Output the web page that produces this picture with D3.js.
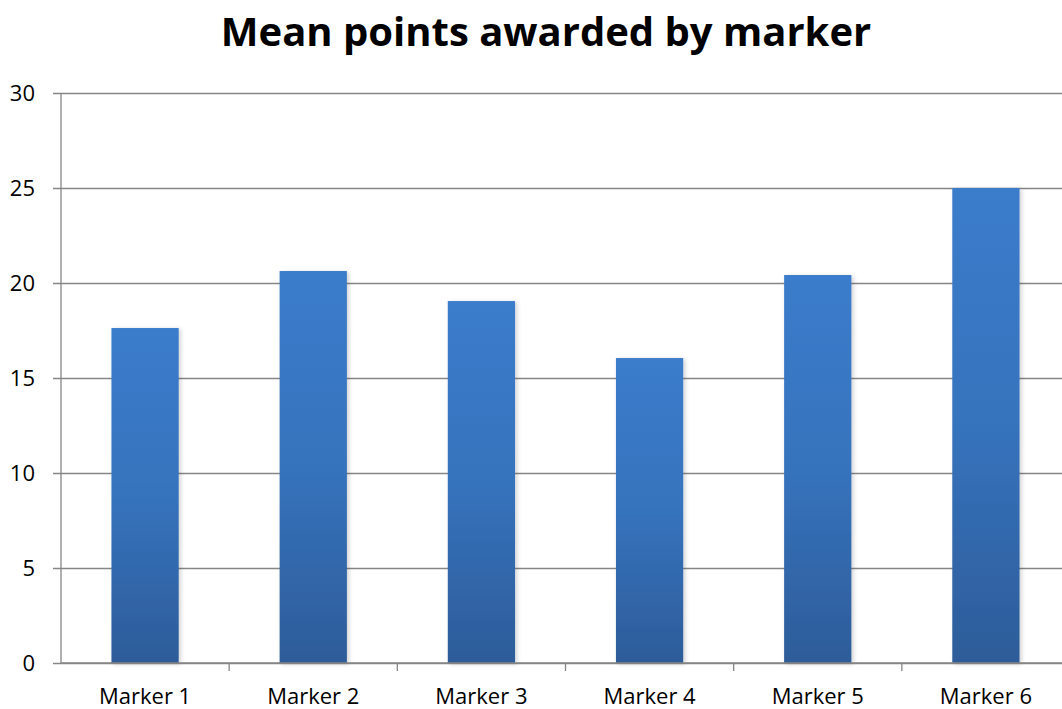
<!DOCTYPE html>
<html>
<head>
<meta charset="utf-8">
<script src="https://cdn.jsdelivr.net/npm/d3@7"></script>
<style>
  html, body { margin: 0; padding: 0; background: #fff; }
  svg { display: block; }
  text { font-family: "Open Sans", "Noto Sans", sans-serif; fill: #000; }
</style>
</head>
<body>
<svg id="chart" width="1062" height="709"></svg>
<script>
// Chart data
const titleText = "Mean points awarded by marker";
const categories = ["Marker 1", "Marker 2", "Marker 3", "Marker 4", "Marker 5", "Marker 6"];
const meanPoints = [17.63, 20.63, 19.05, 16.05, 20.42, 25.0];
const yTicks = [0, 5, 10, 15, 20, 25, 30];

const svg = d3.select("#chart");
const margin = { left: 61, top: 93, plotRight: 1070, bottom: 663 };

const xBand = d3.scaleBand()
  .domain(categories)
  .range([margin.left, margin.plotRight]);

const y = d3.scaleLinear().domain([0, 30]).range([margin.bottom, margin.top]);

// Vertical gradient for each bar: lighter at the top, darker at the base
const defs = svg.append("defs");
const grad = defs.append("linearGradient")
  .attr("id", "barFill")
  .attr("x1", 0).attr("y1", 0).attr("x2", 0).attr("y2", 1);
grad.append("stop").attr("offset", "0%").attr("stop-color", "#3b7ccb");
grad.append("stop").attr("offset", "50%").attr("stop-color", "#3673bd");
grad.append("stop").attr("offset", "100%").attr("stop-color", "#2d5c99");

const shadow = defs.append("filter").attr("id", "barShadow")
  .attr("x", "-20%").attr("y", "-5%").attr("width", "140%").attr("height", "110%");
shadow.append("feDropShadow")
  .attr("dx", 2).attr("dy", 1).attr("stdDeviation", 2)
  .attr("flood-color", "#000").attr("flood-opacity", 0.18);

// Horizontal gridlines and the y axis
const yAxis = d3.axisLeft(y)
  .tickValues(yTicks)
  .tickSize(-(margin.plotRight - margin.left))
  .tickPadding(26)
  .tickFormat(d3.format("d"));

const yG = svg.append("g")
  .attr("transform", `translate(${margin.left},0)`)
  .call(yAxis);
yG.select(".domain").remove();
yG.selectAll(".tick line")
  .attr("x1", -8)
  .attr("stroke", "#868686")
  .attr("stroke-width", 1.3);
yG.selectAll(".tick text")
  .style("font-size", "22px")
  .attr("dy", "0.36em");

// Vertical axis line
svg.append("line")
  .attr("x1", margin.left).attr("x2", margin.left)
  .attr("y1", y(30)).attr("y2", y(0))
  .attr("stroke", "#868686").attr("stroke-width", 1.3);

// Bars
const barWidth = xBand.bandwidth() * 0.4;
svg.append("g")
  .selectAll("rect")
  .data(categories.map((c, i) => ({ c, v: meanPoints[i] })))
  .join("rect")
  .attr("x", d => xBand(d.c) + (xBand.bandwidth() - barWidth) / 2)
  .attr("width", barWidth)
  .attr("y", d => y(d.v))
  .attr("height", d => y(0) - y(d.v))
  .attr("fill", "url(#barFill)")
  .attr("filter", "url(#barShadow)");

// Category axis with ticks at band boundaries
const xAxisG = svg.append("g");
xAxisG.append("line")
  .attr("x1", margin.left).attr("x2", margin.plotRight)
  .attr("y1", y(0)).attr("y2", y(0))
  .attr("stroke", "#868686").attr("stroke-width", 1.3);
xAxisG.selectAll("line.tk")
  .data(categories.slice(1))
  .join("line")
  .attr("class", "tk")
  .attr("x1", d => xBand(d)).attr("x2", d => xBand(d))
  .attr("y1", y(0)).attr("y2", y(0) + 8)
  .attr("stroke", "#868686").attr("stroke-width", 1.3);
xAxisG.selectAll("text")
  .data(categories)
  .join("text")
  .attr("x", d => xBand(d) + xBand.bandwidth() / 2)
  .attr("y", 704)
  .attr("text-anchor", "middle")
  .style("font-size", "22px")
  .text(d => d);

// Title
svg.append("text")
  .attr("x", 546)
  .attr("y", 46)
  .attr("text-anchor", "middle")
  .style("font-size", "40px")
  .style("font-weight", "bold")
  .text(titleText);
</script>
</body>
</html>
